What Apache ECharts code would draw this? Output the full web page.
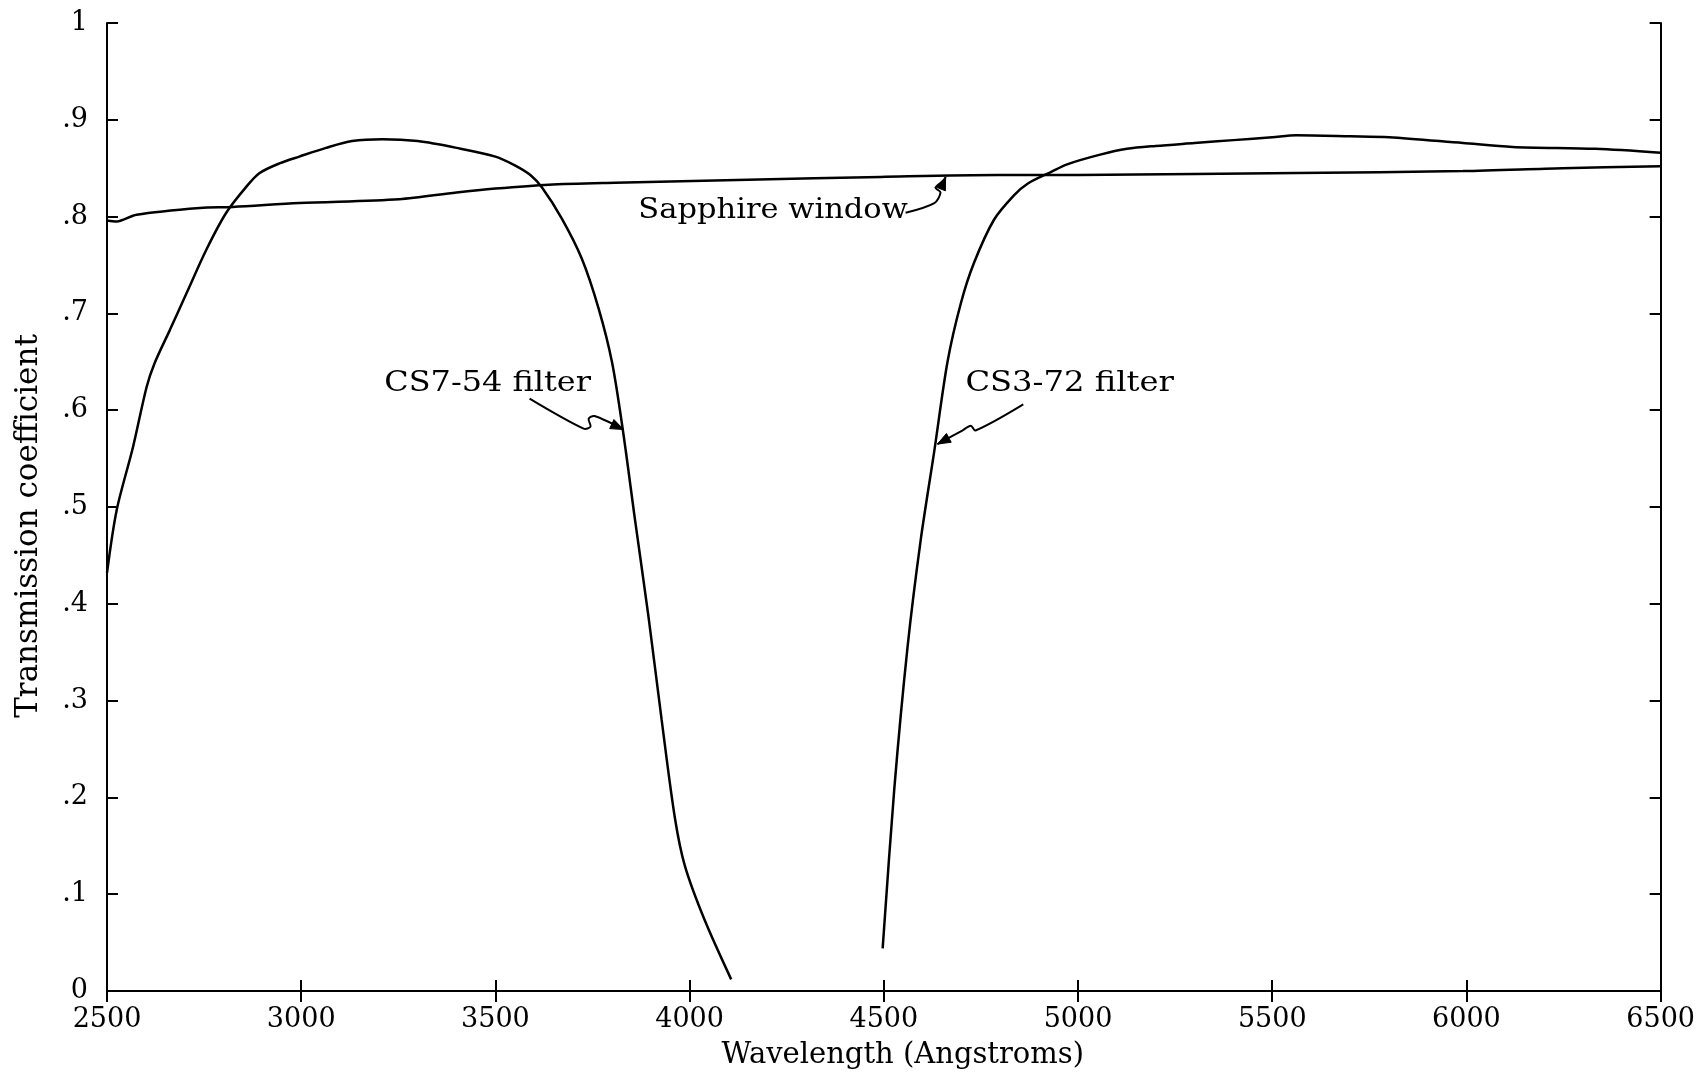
<!DOCTYPE html>
<html>
<head>
<meta charset="utf-8">
<script src="https://cdn.jsdelivr.net/npm/echarts@6/dist/echarts.min.js"></script>
<style>
html,body{margin:0;padding:0;background:#fff;}
#c{width:1698px;height:1075px;}
</style>
</head>
<body>
<div id="c"></div>
<script>
// ---- data ----
const xTicks = [2500, 3000, 3500, 4000, 4500, 5000, 5500, 6000, 6500];
const yTickLabels = ['0', '.1', '.2', '.3', '.4', '.5', '.6', '.7', '.8', '.9', '1'];

const sapphireX = [2500, 2525, 2576, 2739, 2824, 2995, 3252, 3400, 3500, 3637, 3808, 4150, 4492, 4792, 5000, 5300, 5562, 5991, 6247, 6500];
const sapphireY = [0.796, 0.795, 0.802, 0.809, 0.810, 0.814, 0.818, 0.825, 0.829, 0.833, 0.835, 0.838, 0.841, 0.843, 0.843, 0.844, 0.845, 0.847, 0.850, 0.852];

const cs754X = [2500, 2525, 2567, 2602, 2623, 2662, 2705, 2756, 2807, 2859, 2893, 2944, 2995, 3064, 3131, 3209, 3300, 3400, 3500, 3550, 3590, 3620, 3671, 3722, 3765, 3800, 3829, 3859, 3894, 3928, 3962, 3988, 4039, 4107];
const cs754Y = [0.432, 0.497, 0.562, 0.624, 0.649, 0.683, 0.721, 0.766, 0.804, 0.831, 0.845, 0.855, 0.862, 0.871, 0.878, 0.880, 0.878, 0.871, 0.862, 0.853, 0.843, 0.830, 0.798, 0.757, 0.706, 0.650, 0.577, 0.488, 0.387, 0.280, 0.179, 0.129, 0.073, 0.012];

const cs372X = [4497, 4527, 4561, 4595, 4630, 4664, 4698, 4732, 4784, 4835, 4870, 4930, 4972, 5057, 5126, 5200, 5300, 5400, 5500, 5562, 5700, 5801, 5991, 6119, 6332, 6500];
const cs372Y = [0.044, 0.209, 0.355, 0.466, 0.558, 0.650, 0.710, 0.752, 0.797, 0.822, 0.834, 0.846, 0.854, 0.864, 0.870, 0.873, 0.876, 0.879, 0.882, 0.884, 0.883, 0.882, 0.876, 0.872, 0.870, 0.866];

// annotation labels and arrows, anchored in data coordinates
const annotations = [
  { text: 'Sapphire window', at: [3868, 0.806], stretch: 1.09,
    arrow: [[4556, 0.804], [4630, 0.814], [4646, 0.825], [4633, 0.830], [4656, 0.838], [4659, 0.841]] },
  { text: 'CS7-54 filter', at: [3214, 0.627], stretch: 1.14,
    arrow: [[3588, 0.612], [3727, 0.581], [3745, 0.583], [3740, 0.591], [3755, 0.594], [3830, 0.580]] },
  { text: 'CS3-72 filter', at: [4710, 0.627], stretch: 1.15,
    arrow: [[4859, 0.606], [4736, 0.579], [4724, 0.584], [4702, 0.579], [4638, 0.565]] }
];

const FONT = 'DejaVu Serif';
const zip = (xs, ys) => xs.map((x, i) => [x, ys[i]]);

const chart = echarts.init(document.getElementById('c'), null, { renderer: 'canvas' });

const lineStyle = { color: '#000', width: 2 };
const tickCommon = { show: true, inside: true, length: 11, lineStyle: { color: '#000', width: 2 } };

const option = {
  backgroundColor: '#fff',
  animation: false,
  grid: { left: 107, right: 32, top: 23, bottom: 84 },
  xAxis: [
    {
      type: 'value', position: 'bottom', min: 2500, max: 6500, interval: 500,
      axisLine: { show: true, lineStyle: lineStyle },
      axisTick: tickCommon,
      axisLabel: { color: '#000', fontFamily: FONT, fontSize: 27, margin: 15,
        formatter: v => String(xTicks.includes(v) ? v : '') },
      splitLine: { show: false },
      name: 'Wavelength (Angstroms)', nameLocation: 'middle', nameGap: 50,
      nameTextStyle: { color: '#000', fontFamily: FONT, fontSize: 29, padding: [0, 0, 0, 38] }
    },
    {
      type: 'value', position: 'top', min: 2500, max: 6500, interval: 500,
      axisLine: { show: true, lineStyle: lineStyle },
      axisTick: tickCommon, axisLabel: { show: false }, splitLine: { show: false }
    }
  ],
  yAxis: [
    {
      type: 'value', position: 'left', min: 0, max: 1, interval: 0.1,
      axisLine: { show: true, lineStyle: lineStyle },
      axisTick: tickCommon,
      axisLabel: { color: '#000', fontFamily: FONT, fontSize: 27, margin: 19,
        formatter: v => yTickLabels[Math.round(v * 10)] },
      splitLine: { show: false },
      name: 'Transmission coefficient', nameLocation: 'middle', nameGap: 63,
      nameTextStyle: { color: '#000', fontFamily: FONT, fontSize: 31, padding: [0, 38, 0, 0] }
    },
    {
      type: 'value', position: 'right', min: 0, max: 1, interval: 0.1,
      axisLine: { show: true, lineStyle: lineStyle },
      axisTick: tickCommon, axisLabel: { show: false }, splitLine: { show: false }
    }
  ],
  series: [
    { name: 'Sapphire window', type: 'line', data: zip(sapphireX, sapphireY), showSymbol: false, smooth: 0.3,
      lineStyle: { color: '#000', width: 2.5 }, silent: true },
    { name: 'CS7-54 filter', type: 'line', data: zip(cs754X, cs754Y), showSymbol: false, smooth: 0.3,
      lineStyle: { color: '#000', width: 2.5 }, silent: true },
    { name: 'CS3-72 filter', type: 'line', data: zip(cs372X, cs372Y), showSymbol: false, smooth: 0.3,
      lineStyle: { color: '#000', width: 2.5 }, silent: true }
  ]
};
chart.setOption(option);

// annotation graphics positioned through the chart's own coordinate system
const toPx = p => chart.convertToPixel({ xAxisIndex: 0, yAxisIndex: 0 }, p);
const graphics = [];
annotations.forEach(a => {
  const tp = toPx(a.at);
  graphics.push({
    type: 'text', x: tp[0], y: tp[1], scaleX: a.stretch,
    style: { text: a.text, fill: '#000', font: '28px "DejaVu Serif"', textAlign: 'left', textVerticalAlign: 'middle' }
  });
  const pts = a.arrow.map(toPx);
  graphics.push({
    type: 'polyline', shape: { points: pts, smooth: 0.3 },
    style: { stroke: '#000', lineWidth: 2, fill: null }
  });
  const tip = pts[pts.length - 1], prev = pts[pts.length - 2];
  const ang = Math.atan2(tip[1] - prev[1], tip[0] - prev[0]);
  const L = 13, W = 5;
  const bx = tip[0] - L * Math.cos(ang), by = tip[1] - L * Math.sin(ang);
  graphics.push({
    type: 'polygon',
    shape: { points: [tip, [bx + W * Math.sin(ang), by - W * Math.cos(ang)], [bx - W * Math.sin(ang), by + W * Math.cos(ang)]] },
    style: { fill: '#000', stroke: '#000', lineWidth: 1 }
  });
});
chart.setOption({ graphic: graphics });
</script>
</body>
</html>
